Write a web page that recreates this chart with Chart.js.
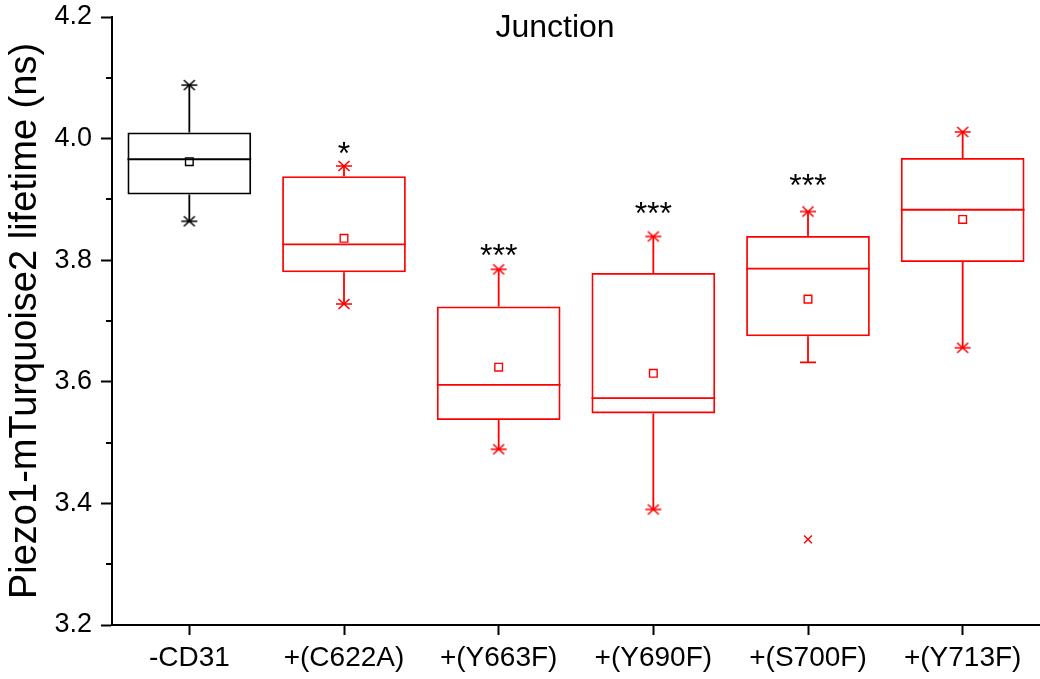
<!DOCTYPE html>
<html>
<head>
<meta charset="utf-8">
<script src="https://cdn.jsdelivr.net/npm/chart.js@4/dist/chart.umd.min.js"></script>
<style>
  html, body { margin: 0; padding: 0; background: #ffffff; overflow: hidden; }
  canvas { display: block; }
</style>
</head>
<body>
<canvas id="c" width="1040" height="679"></canvas>
<script>
// ---- data ----
const categories  = ['-CD31', '+(C622A)', '+(Y663F)', '+(Y690F)', '+(S700F)', '+(Y713F)'];
const q1          = [3.908, 3.780, 3.537, 3.548, 3.675, 3.797];
const q3          = [4.010, 3.938, 3.724, 3.779, 3.840, 3.968];
const medians     = [3.966, 3.826, 3.595, 3.573, 3.786, 3.883];
const means       = [3.962, 3.836, 3.624, 3.614, 3.736, 3.867];
const whiskerLow  = [3.864, 3.728, 3.489, 3.390, 3.632, 3.656];
const whiskerHigh = [4.088, 3.955, 3.785, 3.839, 3.880, 4.011];
const outliers    = [null, null, null, null, 3.341, null];
const sigLabels   = ['', '*', '***', '***', '***', ''];
const sigValues   = [null, 3.985, 3.816, 3.886, 3.932, null];
const yTicks      = [3.2, 3.4, 3.6, 3.8, 4.0, 4.2];
const yMinorTicks = [3.3, 3.5, 3.7, 3.9, 4.1];

// ---- styles ----
const RED = '#ff0000', BLACK = '#000000';
const colors = categories.map((c, i) => i === 0 ? BLACK : RED);
const FONT = '"Liberation Sans", Arial, Helvetica, sans-serif';

function makeStar(color) {
  const cv = document.createElement('canvas');
  cv.width = 18; cv.height = 14;
  const g = cv.getContext('2d');
  g.strokeStyle = color; g.lineWidth = 1.6;
  g.beginPath();
  g.moveTo(1, 7); g.lineTo(17, 7);
  g.moveTo(3.5, 2); g.lineTo(14.5, 12);
  g.moveTo(14.5, 2); g.lineTo(3.5, 12);
  g.stroke();
  return cv;
}
const starBlack = makeStar(BLACK), starRed = makeStar(RED);
const starFor = colors.map(c => c === BLACK ? starBlack : starRed);
// S700F lower whisker ends with a flat cap
const lowStyles = starFor.map((s, i) => outliers[i] !== null ? 'line' : s);

const boxPlugin = {
  id: 'boxPlugin',
  afterDatasetsDraw(chart) {
    const { ctx, scales: { x, y } } = chart;
    const meta = chart.getDatasetMeta(0);
    ctx.save();
    categories.forEach((c, i) => {
      const bar = meta.data[i];
      const cx = x.getPixelForValue(i);
      const half = bar.width / 2;
      ctx.strokeStyle = colors[i];
      ctx.lineWidth = 1.8;
      ctx.beginPath();
      const ym = y.getPixelForValue(medians[i]);
      ctx.moveTo(cx - half, ym); ctx.lineTo(cx + half, ym);
      ctx.moveTo(cx, y.getPixelForValue(q3[i])); ctx.lineTo(cx, y.getPixelForValue(whiskerHigh[i]));
      ctx.moveTo(cx, y.getPixelForValue(q1[i])); ctx.lineTo(cx, y.getPixelForValue(whiskerLow[i]));
      ctx.stroke();
      if (sigLabels[i]) {
        ctx.fillStyle = BLACK;
        ctx.font = '32px ' + FONT;
        ctx.textAlign = 'center';
        ctx.textBaseline = 'alphabetic';
        const m = ctx.measureText(sigLabels[i]);
        const yc = y.getPixelForValue(sigValues[i]);
        const base = yc + (m.actualBoundingBoxAscent - m.actualBoundingBoxDescent) / 2;
        ctx.fillText(sigLabels[i], cx, base);
      }
    });
    ctx.restore();
  },
  afterDraw(chart) {
    const { ctx, chartArea, scales: { y } } = chart;
    ctx.save();
    ctx.strokeStyle = BLACK; ctx.lineWidth = 2;
    ctx.beginPath();
    yMinorTicks.forEach(v => {
      const py = Math.round(y.getPixelForValue(v));
      ctx.moveTo(chartArea.left - 6, py); ctx.lineTo(chartArea.left, py);
    });
    ctx.stroke();
    ctx.fillStyle = BLACK;
    ctx.font = '32px ' + FONT;
    ctx.textAlign = 'center';
    ctx.textBaseline = 'alphabetic';
    ctx.fillText('Junction', 555, 37);
    ctx.restore();
  }
};

new Chart(document.getElementById('c'), {
  data: {
    labels: categories,
    datasets: [
      {
        type: 'bar',
        data: categories.map((c, i) => [q1[i], q3[i]]),
        backgroundColor: 'rgba(0,0,0,0)',
        borderColor: colors,
        borderWidth: 1.8,
        borderSkipped: false,
        barPercentage: 0.8,
        categoryPercentage: 1.0,
        order: 5
      },
      {
        type: 'line', showLine: false,
        data: whiskerHigh,
        pointStyle: starFor,
        pointRadius: 8,
        pointBorderColor: colors,
        order: 1
      },
      {
        type: 'line', showLine: false,
        data: whiskerLow,
        pointStyle: lowStyles,
        pointRadius: 8,
        pointBorderColor: colors,
        pointBorderWidth: 1.8,
        order: 1
      },
      {
        type: 'line', showLine: false,
        data: means,
        pointStyle: 'rect',
        pointRadius: 5.4,
        pointBorderColor: colors,
        pointBackgroundColor: 'rgba(0,0,0,0)',
        pointBorderWidth: 1.4,
        order: 1
      },
      {
        type: 'line', showLine: false,
        data: outliers,
        pointStyle: 'crossRot',
        pointRadius: 5.5,
        pointBorderColor: colors,
        pointBorderWidth: 1.4,
        order: 1
      }
    ]
  },
  options: {
    responsive: false,
    animation: false,
    events: [],
    layout: { autoPadding: false, padding: { top: 17, right: 0, left: 0, bottom: 0 } },
    plugins: { legend: { display: false }, tooltip: { enabled: false }, title: { display: false } },
    scales: {
      x: {
        type: 'category',
        offset: true,
        grid: { offset: false, drawOnChartArea: false, tickLength: 10, color: BLACK, tickWidth: 2 },
        border: { display: true, color: BLACK, width: 2 },
        ticks: { color: BLACK, font: { family: FONT, size: 28 }, padding: 6, maxRotation: 0, autoSkip: false },
        afterFit(s) { s.height = 54; s.paddingLeft = 0; s.paddingRight = 0; }
      },
      y: {
        type: 'linear',
        min: 3.2, max: 4.2,
        afterBuildTicks(s) { s.ticks = yTicks.map(v => ({ value: v })); },
        grid: { drawOnChartArea: false, tickLength: 11, color: BLACK, tickWidth: 2 },
        border: { display: true, color: BLACK, width: 2 },
        ticks: { color: BLACK, font: { family: FONT, size: 27 }, padding: 9, callback: v => v.toFixed(1) },
        title: { display: true, text: 'Piezo1-mTurquoise2 lifetime (ns)', color: BLACK,
                 font: { family: FONT, size: 38 }, padding: { top: 3, bottom: 0 } },
        afterFit(s) { s.width = 112; s.paddingTop = 0; s.paddingBottom = 0; }
      }
    }
  },
  plugins: [boxPlugin]
});
</script>
</body>
</html>
